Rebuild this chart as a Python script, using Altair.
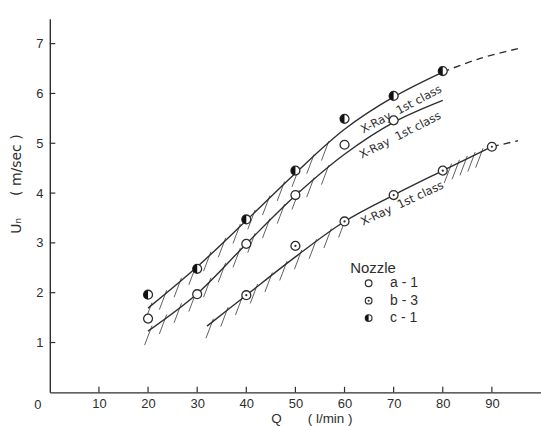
import altair as alt
import pandas as pd
import numpy as np

NB = "\u00a0"

# ---- measured points (Q in l/min, Un in m/sec) ----
a1_Q = [20, 30, 40, 50, 60, 70]
a1_U = [1.48, 1.97, 2.98, 3.96, 4.97, 5.46]
b3_Q = [40, 50, 60, 70, 80, 90]
b3_U = [1.95, 2.94, 3.43, 3.96, 4.45, 4.93]
c1_Q = [20, 30, 40, 50, 60, 70, 80]
c1_U = [1.96, 2.48, 3.47, 4.45, 5.49, 5.95, 6.45]

# ---- hand-drawn limit curves ("X-Ray 1st class") ----
c1_curve_Q = [20, 30, 40, 50, 60, 70, 80]
c1_curve_U = [1.69, 2.52, 3.45, 4.40, 5.28, 5.93, 6.43]
c1_dash_Q = [80, 87.5, 95.3]
c1_dash_U = [6.43, 6.70, 6.90]
a1_curve_Q = [20, 30, 40, 50, 60, 70, 80]
a1_curve_U = [1.23, 1.98, 2.98, 3.95, 4.78, 5.42, 5.86]
b3_curve_Q = [32, 40, 50, 60, 70, 80, 90]
b3_curve_U = [1.33, 1.95, 2.72, 3.43, 3.96, 4.45, 4.93]
b3_dash_Q = [90, 95.3]
b3_dash_U = [4.93, 5.05]

# hatched stretches of each curve (Q from, Q to, spacing)
hatch_ranges = {
    "c1": [(20.5, 57, 3.0)],
    "a1": [(20.5, 57, 3.0)],
    "b3": [(33, 60, 3.0), (81.5, 88.5, 1.6)],
}

curve_label = "X-Ray" + NB * 2 + "1st class"
label_Q = [71.6, 71.4, 71.8]
label_U = [5.67, 5.15, 3.78]
label_angle = [332, 333, 335]

legend_title = "Nozzle"
legend_names = ["a - 1", "b - 3", "c - 1"]

x_title = "Q" + NB * 7 + "(" + NB + "l/min" + NB + ")"
y_title = "Uₙ" + NB * 5 + "(" + NB + "m/sec" + NB + ")"

x_ticks = [10, 20, 30, 40, 50, 60, 70, 80, 90]
y_ticks = [1, 2, 3, 4, 5, 6, 7]

INK = "#2e2e2e"
FONT = "Liberation Sans"

# ---- tables ----
curves = pd.concat([
    pd.DataFrame({"Q": c1_curve_Q, "U": c1_curve_U, "c": "c1"}),
    pd.DataFrame({"Q": a1_curve_Q, "U": a1_curve_U, "c": "a1"}),
    pd.DataFrame({"Q": b3_curve_Q, "U": b3_curve_U, "c": "b3"}),
])
dashes = pd.concat([
    pd.DataFrame({"Q": c1_dash_Q, "U": c1_dash_U, "c": "c1"}),
    pd.DataFrame({"Q": b3_dash_Q, "U": b3_dash_U, "c": "b3"}),
])
curve_src = {"c1": (c1_curve_Q, c1_curve_U), "a1": (a1_curve_Q, a1_curve_U),
             "b3": (b3_curve_Q, b3_curve_U)}
rows = []
for k, segs in hatch_ranges.items():
    cq, cu = curve_src[k]
    for q0, q1, step in segs:
        for q in np.arange(q0, q1 + 1e-6, step):
            u = float(np.interp(q, cq, cu))
            rows.append({"Q": q + 0.3, "U": u + 0.07, "Q2": q - 1.2, "U2": u - 0.32})
hatch = pd.DataFrame(rows)

pts_a = pd.DataFrame({"Q": a1_Q, "U": a1_U})
pts_b = pd.DataFrame({"Q": b3_Q, "U": b3_U})
pts_c = pd.DataFrame({"Q": c1_Q, "U": c1_U})
labels = pd.DataFrame({"Q": label_Q, "U": label_U, "ang": label_angle, "t": curve_label})

xs = alt.Scale(domain=[0, 100], nice=False)
ys = alt.Scale(domain=[0, 7.5], nice=False)

X = alt.X("Q:Q", scale=xs, title=None, axis=alt.Axis(
    values=x_ticks, ticks=False, grid=False, domainColor=INK, domainWidth=1.4,
    labelFont=FONT, labelFontSize=13, labelColor=INK, labelPadding=5))
Y = alt.Y("U:Q", scale=ys, title=None, axis=alt.Axis(
    values=y_ticks, ticks=False, grid=False, domainColor=INK, domainWidth=1.4,
    labelFont=FONT, labelFontSize=13, labelColor=INK, labelPadding=7))

hatch_layer = alt.Chart(hatch).mark_rule(color=INK, strokeWidth=0.9, opacity=0.85).encode(
    x=alt.X("Q:Q", scale=xs), y=alt.Y("U:Q", scale=ys), x2="Q2:Q", y2="U2:Q")

curve_layer = alt.Chart(curves).mark_line(color=INK, strokeWidth=1.4, interpolate="catmull-rom").encode(
    x=X, y=Y, detail="c:N")
dash_layer = alt.Chart(dashes).mark_line(color=INK, strokeWidth=1.4, strokeDash=[7, 5],
                                         interpolate="catmull-rom").encode(
    x=alt.X("Q:Q", scale=xs), y=alt.Y("U:Q", scale=ys), detail="c:N")

PS = 80
HALF = "M0,-1 A1,1 0 0,0 0,1 Z"

def circ(df, size):
    return alt.Chart(df).mark_point(shape="circle", filled=True, fill="white", stroke=INK,
                                    strokeWidth=1.3, size=size, opacity=1).encode(
        x=alt.X("Q:Q", scale=xs), y=alt.Y("U:Q", scale=ys))

def dot(df, size):
    return alt.Chart(df).mark_point(shape="circle", filled=True, color=INK, size=size, opacity=1).encode(
        x=alt.X("Q:Q", scale=xs), y=alt.Y("U:Q", scale=ys))

def half(df, size):
    return alt.Chart(df).mark_point(shape=HALF, filled=True, color="#111111", size=size, opacity=1).encode(
        x=alt.X("Q:Q", scale=xs), y=alt.Y("U:Q", scale=ys))

point_layers = [circ(pts_a, PS), circ(pts_b, PS), dot(pts_b, 5), circ(pts_c, PS), half(pts_c, PS)]

label_layer = alt.Chart(labels).mark_text(font="DejaVu Sans", fontSize=11.5, color=INK, align="center",
                                          baseline="middle").encode(
    x=alt.X("Q:Q", scale=xs), y=alt.Y("U:Q", scale=ys), text="t:N",
    angle=alt.Angle("ang:Q", scale=None))

# axis titles as text
xtitle = alt.Chart(pd.DataFrame({"t": [x_title]})).mark_text(
    font=FONT, fontSize=13.5, color=INK, align="center", baseline="middle").encode(
    text="t:N", x=alt.value(263), y=alt.value(402))
ytitle = alt.Chart(pd.DataFrame({"t": [y_title]})).mark_text(
    font="DejaVu Sans", fontSize=14, color=INK, align="center", baseline="middle", angle=270).encode(
    text="t:N", x=alt.value(-33), y=alt.value(166))

# inward ticks
xt = alt.Chart(pd.DataFrame({"Q": x_ticks})).mark_rule(color=INK, strokeWidth=1.2).encode(
    x=alt.X("Q:Q", scale=xs), y=alt.value(375), y2=alt.value(369.5))
yt = alt.Chart(pd.DataFrame({"U": y_ticks})).mark_rule(color=INK, strokeWidth=1.2).encode(
    y=alt.Y("U:Q", scale=ys), x=alt.value(0), x2=alt.value(5.5))
zero = alt.Chart(pd.DataFrame({"t": ["0"]})).mark_text(font=FONT, fontSize=13, color=INK).encode(
    text="t:N", x=alt.value(-12), y=alt.value(388))

# legend
LX, LY0, LDY = 320, 265.5, 17.5
one = pd.DataFrame({"k": [0]})
leg = [alt.Chart(pd.DataFrame({"t": [legend_title]})).mark_text(
    font=FONT, fontSize=15, color=INK, align="left", baseline="middle").encode(
    text="t:N", x=alt.value(301.5), y=alt.value(250))]
for i, name in enumerate(legend_names):
    yv = LY0 + i * LDY
    leg.append(alt.Chart(pd.DataFrame({"t": [name]})).mark_text(
        font=FONT, fontSize=14, color=INK, align="left", baseline="middle").encode(
        text="t:N", x=alt.value(341.5), y=alt.value(yv)))
    leg.append(alt.Chart(one).mark_point(shape="circle", filled=True, fill="white", stroke=INK,
                                         strokeWidth=1.2, size=45, opacity=1).encode(
        x=alt.value(LX), y=alt.value(yv)))
    if i == 1:
        leg.append(alt.Chart(one).mark_point(shape="circle", filled=True, color=INK, size=4,
                                             opacity=1).encode(x=alt.value(LX), y=alt.value(yv)))
    if i == 2:
        leg.append(alt.Chart(one).mark_point(shape=HALF, filled=True, color="#111111", size=45,
                                             opacity=1).encode(x=alt.value(LX), y=alt.value(yv)))

chart = alt.layer(curve_layer, hatch_layer, dash_layer, *point_layers, label_layer,
                  xt, yt, zero, xtitle, ytitle, *leg).properties(
    width=493, height=375, autosize="none",
    padding={"left": 50, "top": 18, "right": 0, "bottom": 33},
    background="white",
).configure_view(stroke=None)

chart.save("out.html", embed_options={"renderer": "svg", "actions": False})
